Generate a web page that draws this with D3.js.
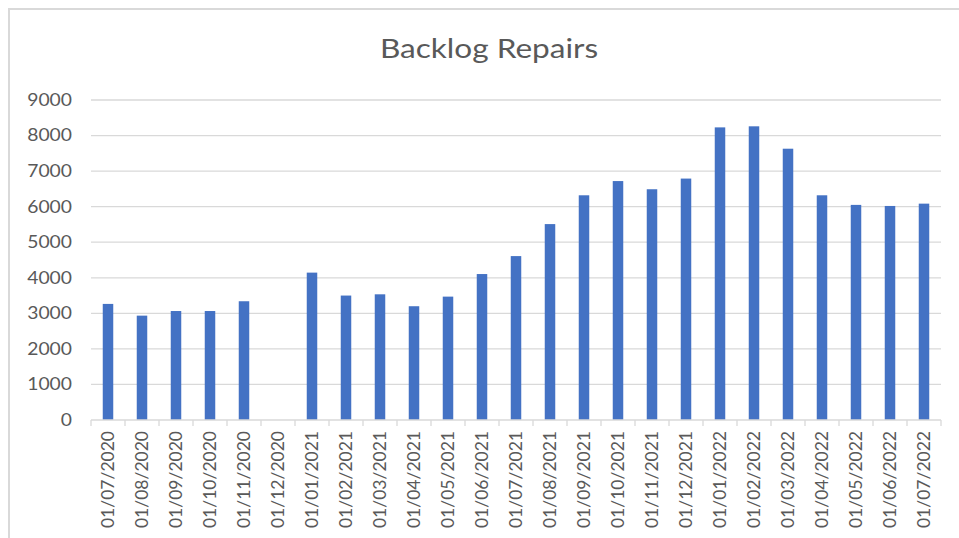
<!DOCTYPE html>
<html>
<head>
<meta charset="utf-8">
<script src="https://cdn.jsdelivr.net/npm/d3@7/dist/d3.min.js"></script>
<style>
  body { margin: 0; background: #fff; }
  text { font-family: Lato, "Open Sans", sans-serif; fill: #595959; }
</style>
</head>
<body>
<div id="chart"></div>
<script>
(function() {
"use strict";

var months = ["01/07/2020","01/08/2020","01/09/2020","01/10/2020","01/11/2020","01/12/2020",
  "01/01/2021","01/02/2021","01/03/2021","01/04/2021","01/05/2021","01/06/2021",
  "01/07/2021","01/08/2021","01/09/2021","01/10/2021","01/11/2021","01/12/2021",
  "01/01/2022","01/02/2022","01/03/2022","01/04/2022","01/05/2022","01/06/2022","01/07/2022"];
var backlog = [3265, 2935, 3065, 3065, 3340, 0,
  4145, 3500, 3535, 3200, 3470, 4105,
  4610, 5510, 6320, 6720, 6490, 6790,
  8230, 8260, 7630, 6320, 6050, 6020, 6085];
var yTicks = [0,1000,2000,3000,4000,5000,6000,7000,8000,9000];

var W = 959, H = 538;
var m = {left: 91, right: 18, top: 100, bottom: 118};
var stretch = 1.17; // the source picture is a bit wider than tall

var svg = d3.select("#chart").append("svg")
  .attr("width", W).attr("height", H);

// chart border
svg.append("rect")
  .attr("x", 9).attr("y", 9)
  .attr("width", W + 20).attr("height", H + 20)
  .attr("fill", "none").attr("stroke", "#d9d9d9").attr("stroke-width", 2);

svg.append("text")
  .attr("transform", "translate(489,58) scale(" + stretch + ",1)")
  .attr("text-anchor", "middle")
  .style("font-size", "27px")
  .text("Backlog Repairs");

var x = d3.scaleBand().domain(months)
  .range([m.left, W - m.right]).paddingInner(0).paddingOuter(0);
var y = d3.scaleLinear().domain([0, 9000]).range([H - m.bottom, m.top]);

// gridlines
svg.append("g").selectAll("line")
  .data(yTicks.slice(1))
  .enter().append("line")
  .attr("x1", m.left).attr("x2", W - m.right)
  .attr("y1", function(d) { return y(d); })
  .attr("y2", function(d) { return y(d); })
  .attr("stroke", "#d9d9d9").attr("stroke-width", 1.3);

// y labels
svg.append("g").selectAll("text")
  .data(yTicks)
  .enter().append("text")
  .attr("transform", function(d) {
    return "translate(72," + y(d) + ") scale(" + stretch + ",1)";
  })
  .attr("dy", "0.36em")
  .attr("text-anchor", "end")
  .style("font-size", "16.5px")
  .text(function(d) { return d; });

// bars
var bw = 10.5;
svg.append("g").selectAll("rect")
  .data(backlog)
  .enter().append("rect")
  .attr("x", function(d, i) { return x(months[i]) + x.bandwidth() / 2 - bw / 2; })
  .attr("y", function(d) { return y(d); })
  .attr("width", bw)
  .attr("height", function(d) { return y(0) - y(d); })
  .attr("fill", "#4472c4");

// x axis
var xAxis = svg.append("g")
  .attr("transform", "translate(0," + y(0) + ")");
xAxis.append("line")
  .attr("x1", m.left).attr("x2", W - m.right)
  .attr("stroke", "#d9d9d9").attr("stroke-width", 1.3);
xAxis.selectAll("line.tick")
  .data(months.concat(["end"]))
  .enter().append("line")
  .attr("class", "tick")
  .attr("x1", function(d, i) { return m.left + i * x.bandwidth(); })
  .attr("x2", function(d, i) { return m.left + i * x.bandwidth(); })
  .attr("y1", 0).attr("y2", 6)
  .attr("stroke", "#d9d9d9").attr("stroke-width", 1.3);
xAxis.selectAll("text")
  .data(months)
  .enter().append("text")
  .attr("transform", function(d) {
    return "translate(" + (x(d) + x.bandwidth() / 2) + ",11) rotate(-90)";
  })
  .attr("dy", "0.36em")
  .attr("text-anchor", "end")
  .style("font-size", "17.5px")
  .text(function(d) { return d; });

})();
</script>
</body>
</html>
